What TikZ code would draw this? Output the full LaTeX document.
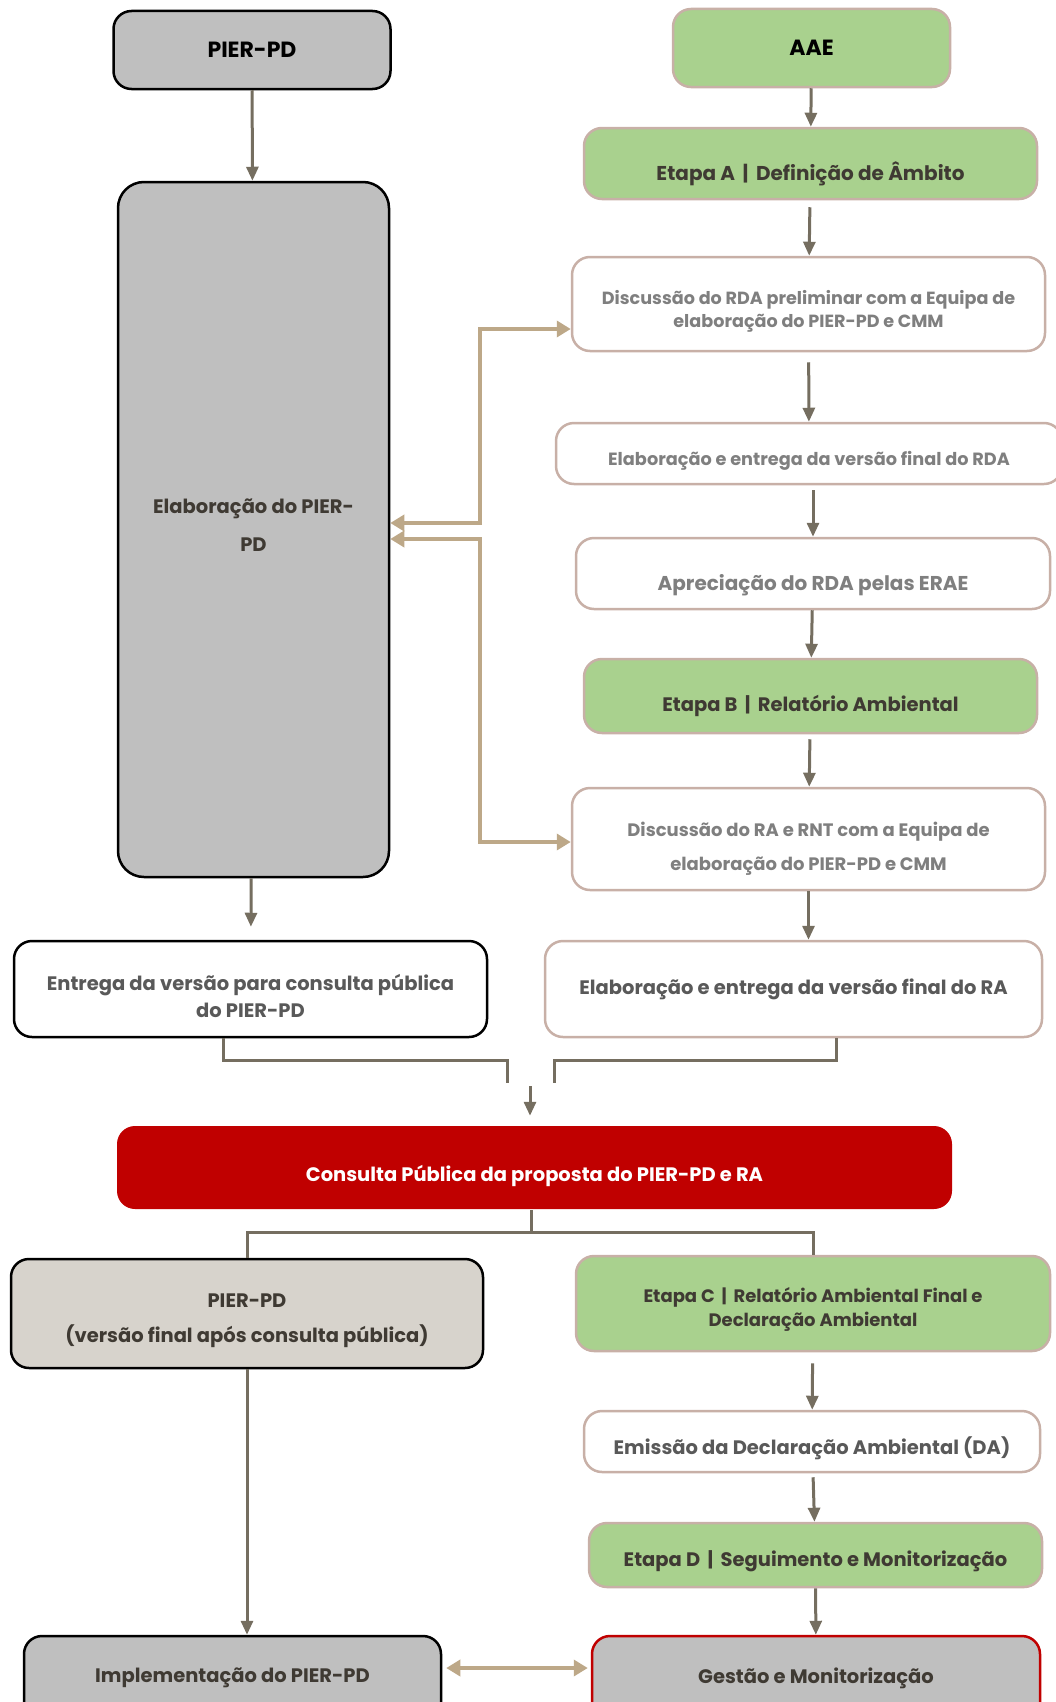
\documentclass[tikz,border=0pt]{standalone}
\usepackage{fontspec}
\setmainfont{Poppins}
\usetikzlibrary{arrows.meta}

\definecolor{boxgray}{HTML}{BFBFBF}
\definecolor{aaegreen}{HTML}{A9D18E}
\definecolor{pubred}{HTML}{C00000}
\definecolor{warmgray}{HTML}{D7D3CC}
\definecolor{rosy}{HTML}{C8B0A7}
\definecolor{arrowgray}{HTML}{756E60}
\definecolor{tanline}{HTML}{BDA888}
\definecolor{txtgray}{HTML}{7F7F7F}
\definecolor{txtdark}{HTML}{595959}
\definecolor{txtblack}{HTML}{3F3A33}

\tikzset{
  box/.style={rounded corners=18pt, line width=2.5pt, align=center, inner sep=0pt,
    font=\fontsize{19.5}{23}\selectfont\bfseries},
  pierbox/.style={box, draw=black, fill=boxgray, text=txtblack},
  stagebox/.style={box, draw=rosy, fill=aaegreen, text=txtblack},
  plainbox/.style={box, draw=rosy, fill=white, text=txtgray},
  flow/.style={draw=arrowgray, line width=3pt, -{Triangle[length=14pt,width=12pt]}},
  link/.style={draw=arrowgray, line width=3pt},
  back/.style={draw=tanline, line width=4.5pt,
    {Triangle[length=14pt,width=16pt]}-{Triangle[length=14pt,width=16pt]}},
}
\newcommand\lowtext[2]{\raisebox{-#1pt}[0pt][0pt]{#2}}
\newcommand\pad[1]{\rule{0pt}{#1pt}}

\begin{document}
\begin{tikzpicture}[x=1pt,y=-1pt]
  \useasboundingbox (0,0) rectangle (1055,1702);

  % left column: PIER-PD
  \node[pierbox, minimum width=277pt, minimum height=78pt, text=black,
    font=\fontsize{22}{26}\selectfont\bfseries] (pier) at (252,50) {PIER-PD};
  \node[pierbox, minimum width=271pt, minimum height=695pt, rounded corners=26pt] (elabpier) at (253.5,529.5)
    {Elaboração do PIER-\\[15pt]PD\rule[-9pt]{0pt}{0pt}};
  \node[pierbox, fill=white, text=txtdark, minimum width=473pt, minimum height=96pt] (entrega) at (250.5,989)
    {\pad{31}Entrega da versão para consulta pública\\[4pt]do PIER-PD};

  % right column: AAE
  \node[stagebox, minimum width=277pt, minimum height=78pt, text=black,
    font=\fontsize{22}{26}\selectfont\bfseries] (aae) at (811.5,48) {AAE};
  \node[stagebox, minimum width=453pt, minimum height=71pt, font=\fontsize{20}{23}\selectfont\bfseries] (etapaa) at (810.5,163.5)
    {\lowtext{17}{Etapa A \,|\, Definição de Âmbito}};
  \node[plainbox, minimum width=473pt, minimum height=94pt, font=\fontsize{17.6}{21}\selectfont\bfseries] (discrda) at (808.5,304)
    {\pad{28}Discussão do RDA preliminar com a Equipa de\\[2pt]elaboração do PIER-PD e CMM};
  \node[plainbox, minimum width=506pt, minimum height=61pt, font=\fontsize{17.7}{21}\selectfont\bfseries] (elabrda) at (809,453.5)
    {\lowtext{12}{Elaboração e entrega da versão final do RDA}};
  \node[plainbox, minimum width=474pt, minimum height=71pt, font=\fontsize{20}{23}\selectfont\bfseries] (apre) at (813,573.5)
    {\lowtext{17}{Apreciação do RDA pelas ERAE}};
  \node[stagebox, minimum width=453pt, minimum height=74pt] (etapab) at (810.5,696)
    {\lowtext{15}{Etapa B \,|\, Relatório Ambiental}};
  \node[plainbox, minimum width=473pt, minimum height=102pt, font=\fontsize{18}{21}\selectfont\bfseries] (discra) at (808.5,839)
    {\pad{33}Discussão do RA e RNT com a Equipa de\\[13pt]elaboração do PIER-PD e CMM};
  \node[plainbox, text=txtdark, minimum width=497pt, minimum height=96pt] (elabra) at (793.5,989)
    {Elaboração e entrega da versão final do RA};

  % consulta publica
  \node[box, fill=pubred, text=white, minimum width=835pt, minimum height=83pt] (consulta) at (534.5,1167.5)
    {\lowtext{14}{Consulta Pública da proposta do PIER-PD e RA}};

  % after consulta
  \node[pierbox, fill=warmgray, minimum width=472pt, minimum height=109pt] (pierfinal) at (247,1313.5)
    {\pad{29}PIER-PD\\[12pt](versão final após consulta pública)};
  \node[pierbox, minimum width=417pt, minimum height=84pt] (impl) at (232.5,1678)
    {Implementação do PIER-PD};
  \node[stagebox, minimum width=474pt, minimum height=95pt, font=\fontsize{18}{21}\selectfont\bfseries] (etapac) at (813,1303.5)
    {\pad{26}Etapa C \,|\, Relatório Ambiental Final e\\[3pt]Declaração Ambiental};
  \node[plainbox, text=txtdark, minimum width=456pt, minimum height=61pt] (emissao) at (812,1441.5)
    {\lowtext{13}{Emissão da Declaração Ambiental (DA)}};
  \node[stagebox, minimum width=453pt, minimum height=64pt] (etapad) at (815.5,1555)
    {\lowtext{11}{Etapa D \,|\, Seguimento e Monitorização}};
  \node[pierbox, draw=pubred, minimum width=448pt, minimum height=84pt] (gestao) at (816,1678)
    {Gestão e Monitorização};

  % main flow
  \draw[flow] (pier) -- (elabpier);
  \draw[flow] (elabpier) -- (entrega) [shorten >=13pt];
  \draw[flow] (aae) -- (etapaa);
  \draw[flow, shorten <=7pt] (etapaa) -- (discrda);
  \draw[flow, shorten <=10pt] (discrda) -- (elabrda);
  \draw[flow, shorten <=5pt] (apre.north |- elabrda.south) -- (apre.north);
  \draw[flow] (apre) -- (etapab);
  \draw[flow, shorten <=5pt] (etapab) -- (discra);
  \draw[flow] (discra.south) -- (discra.south |- elabra.north);

  % merge into consulta
  \coordinate (mergel) at (507,1083);
  \coordinate (merger) at (554,1083);
  \coordinate (mergein) at (530,1086);
  \draw[link] ([xshift=-27.5pt]entrega.south) |- ([yshift=23pt]mergel) -- (mergel);
  \draw[link] ([xshift=42.5pt]elabra.south) |- ([yshift=23pt]merger) -- (merger);
  \draw[flow, shorten >=9pt] (mergein) -- (consulta.north -| mergein);

  % split after consulta
  \coordinate (split) at (531,1232);
  \draw[link] (consulta.south -| split) -- (split);
  \draw[link] (pierfinal.north) |- (split) -| (etapac.north);
  \draw[flow] (pierfinal.south) -- (impl.north -| pierfinal.south);
  \draw[flow, shorten <=11pt] (etapac) -- (emissao);
  \draw[flow, shorten <=4pt] (emissao) -- (etapad);
  \draw[flow] (etapad) -- (gestao);

  % feedback
  \draw[back] ([yshift=6.5pt]elabpier.east) -| ([xshift=-91pt,yshift=-25pt]discrda.west) -- ([yshift=-25pt]discrda.west);
  \draw[back] ([yshift=-9.5pt]elabpier.east) -| ([xshift=-91pt,yshift=-3pt]discra.west) -- ([yshift=-3pt]discra.west);
  \draw[back, shorten <=4pt, shorten >=3pt] ([yshift=10pt]impl.east) -- ([yshift=10pt]gestao.west);
\end{tikzpicture}
\end{document}
